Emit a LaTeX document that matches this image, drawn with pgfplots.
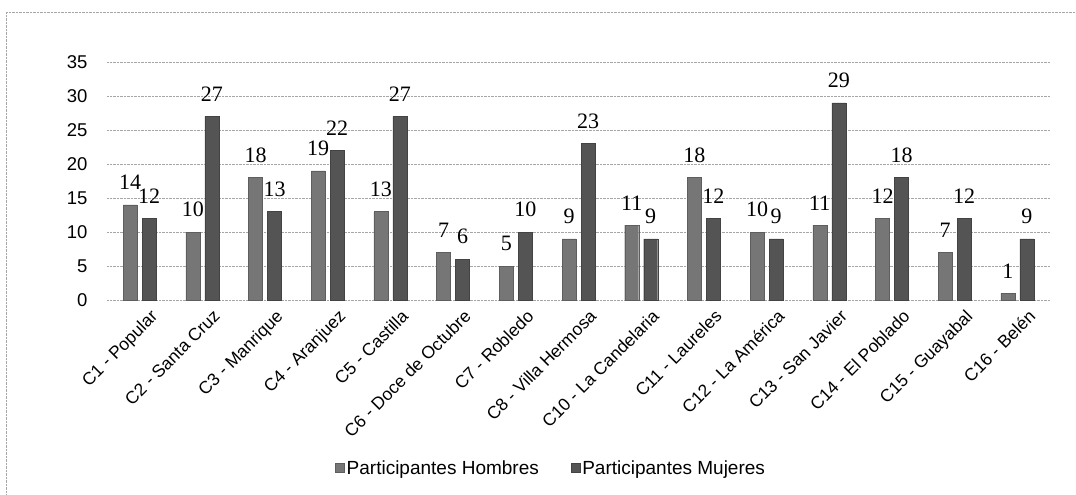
\documentclass[border=0pt]{standalone}
\usepackage{pgfplots}
\pgfplotsset{compat=1.18}
\usepackage{fontspec}
\setmainfont{Liberation Sans}
\newfontfamily\labfont{Liberation Serif}
\definecolor{hom}{HTML}{767676}
\definecolor{muj}{HTML}{545454}
\begin{document}
\begin{tikzpicture}
\useasboundingbox (-107pt,-195pt) rectangle (969pt,300pt);
\draw[gray!70, densely dotted] (-101pt,288pt) -- (969pt,288pt);
\draw[gray!70, densely dotted] (-101pt,288pt) -- (-101pt,-195pt);
\begin{axis}[
  scale only axis,
  width=943pt, height=238pt,
  anchor=south west, at={(0pt,0pt)},
  ybar=5pt, bar width=14pt,
  xmin=-0.52, xmax=14.52,
  ymin=0, ymax=35,
  ytick={0,5,...,35},
  xtick={0,...,14},
  xticklabels={C1 - Popular, C2 - Santa Cruz, C3 - Manrique, C4 - Aranjuez, C5 - Castilla, C6 - Doce de Octubre, C7 - Robledo, C8 - Villa Hermosa, C10 - La Candelaria, C11 - Laureles, C12 - La América, C13 - San Javier, C14 - El Poblado, C15 - Guayabal, C16 - Belén},
  xticklabel style={rotate=45, anchor=north east, font=\fontsize{17.5}{18}\selectfont, inner sep=1pt, yshift=-12pt, xshift=2pt},
  yticklabel style={font=\fontsize{18.5}{19}\selectfont, xshift=-16pt},
  /pgf/number format/assume math mode=true,
  axis line style={draw=none},
  major tick length=0pt,
  ymajorgrids, grid style={gray!70, densely dotted, line width=0.6pt},
  nodes near coords,
  every node near coord/.append style={font=\labfont\fontsize{22}{22}\selectfont, inner sep=3pt, yshift=12pt},
  legend style={at={(0.471,-0.706)}, anchor=center, draw=none, legend columns=2,
    font=\fontsize{19}{19}\selectfont, inner sep=0pt,
    /tikz/every even column/.append style={column sep=30pt}},
  legend image code/.code={\fill[#1] (0pt,-4pt) rectangle (9pt,5pt);},
]
\addplot[fill=hom, draw=hom!80!black] coordinates {(0,14) (1,10) (2,18) (3,19) (4,13) (5,7) (6,5) (7,9) (8,11) (9,18) (10,10) (11,11) (12,12) (13,7) (14,1)};
\addplot[fill=muj, draw=muj!80!black] coordinates {(0,12) (1,27) (2,13) (3,22) (4,27) (5,6) (6,10) (7,23) (8,9) (9,12) (10,9) (11,29) (12,18) (13,12) (14,9)};
\legend{Participantes Hombres, Participantes Mujeres}
\end{axis}
\end{tikzpicture}
\end{document}
